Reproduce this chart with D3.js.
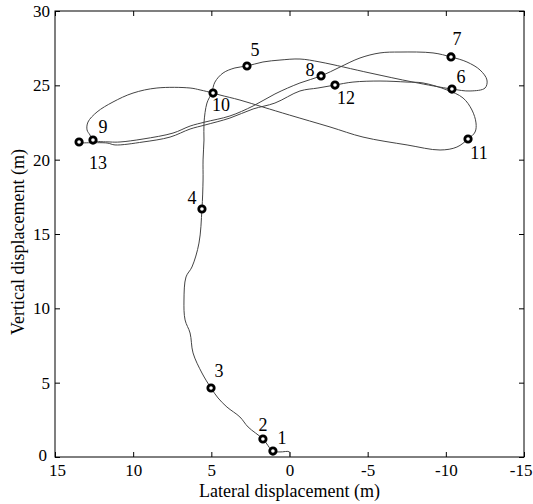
<!DOCTYPE html>
<html>
<head>
<meta charset="utf-8">
<script src="https://cdn.jsdelivr.net/npm/d3@7"></script>
<style>
  body { margin: 0; background: #fff; }
  text { font-family: "Liberation Serif", "Times New Roman", serif; }
</style>
</head>
<body>
<div class="canvas"></div>
<script>
// trajectory (lateral x, vertical y), in metres
const pathX = [0, 0, 0.61, 1.06, 1.70, 2.65, 3.17, 4.00, 4.57, 5.02,
  5.60, 6.17, 6.36, 6.68, 6.75, 6.62, 6.24, 5.79, 5.60,
  5.53, 5.53, 5.47, 5.47, 5.28, 4.98, 4.77, 4.25, 3.49, 2.72,
  1.70, 0.61, -0.67, -1.95, -5.15, -7.90, -10.39,
  -11.55, -12.51, -12.63, -12.19, -11.35, -10.33,
  -9.18, -7.07, -5.79, -4.51, -3.23, -2.02,
  -0.67, 0.93, 2.33, 3.81, 5.41, 6.36, 7.45, 9.37, 10.84, 11.48, 12.57,
  12.76, 12.95, 12.89, 12.31, 11.29, 10.01, 8.48, 6.36, 5.72, 4.89,
  4.45, 3.17, 1.70, 0, -2.59, -4.70, -7.52, -9.63, -10.71, -11.42,
  -11.87, -11.93, -11.67, -11.10, -10.07, -8.54, -7.52, -5.79, -4.06, -2.91,
  -1.82, -0.67, 0.93, 2.33, 3.81, 5.41, 6.36, 7.64, 9.37, 11.16, 11.67, 13.46];
const pathY = [0, 0.34, 0.34, 0.40, 1.21, 2.02, 2.69, 3.36, 3.97, 4.64,
  5.65, 7.00, 8.34, 9.22, 10.56, 12.11, 12.78, 14.39, 16.68,
  18.63, 19.98, 21.32, 22.47, 23.81, 24.48, 25.22, 25.83, 26.17, 26.30,
  26.57, 26.70, 26.77, 26.57, 25.83, 25.22, 24.75,
  24.62, 24.82, 25.36, 26.03, 26.57, 26.91,
  27.18, 27.24, 27.18, 26.84, 26.23, 25.63,
  25.16, 24.42, 23.61, 22.94, 22.53, 22.26, 21.79, 21.39, 21.19, 21.19, 21.32,
  21.66, 22.00, 22.53, 23.21, 23.88, 24.48, 24.82, 24.82, 24.69, 24.48,
  24.35, 24.01, 23.54, 23.00, 22.20, 21.52, 20.99, 20.65, 20.85, 21.39,
  21.86, 22.47, 23.34, 24.15, 24.69, 25.16, 25.22, 25.29, 25.22, 25.02,
  24.82, 24.62, 23.81, 23.41, 22.80, 22.33, 22.06, 21.52, 21.19, 20.99, 21.12, 21.12];

// numbered points along the path
const markLabels = ['1', '2', '3', '4', '5', '6', '7', '8', '9', '10', '11', '12', '13'];
const markX = [1.06, 1.70, 5.02, 5.60, 2.72, -10.39, -10.33, -2.02, 12.57, 4.89, -11.42, -2.91, 13.46];
const markY = [0.40, 1.21, 4.64, 16.68, 26.30, 24.75, 26.91, 25.63, 21.32, 24.48, 21.39, 25.02, 21.19];

const xTicks = [15, 10, 5, 0, -5, -10, -15];
const yTicks = [0, 5, 10, 15, 20, 25, 30];

const dims = { width: 533, height: 504 };
const plot = { left: 55, right: 524, top: 11, bottom: 457 };

// label placement next to each marker (px)
const labelOffset = {
  '1': [9, -13], '2': [0, -14], '3': [8, -17], '4': [-10, -11], '5': [8, -16],
  '6': [9, -12], '7': [6, -18], '8': [-11, -6], '9': [10, -13], '10': [8, 12],
  '11': [11, 14], '12': [11, 13], '13': [19, 21]
};

const svg = d3.select('.canvas')
  .append('svg')
  .attr('width', dims.width)
  .attr('height', dims.height);

const x = d3.scaleLinear().domain([15, -15]).range([plot.left, plot.right]);
const y = d3.scaleLinear().domain([0, 30]).range([plot.bottom, plot.top]);

const fmt = d => String(d);

// axes: ticks pointing inward on all four sides
const axisStyle = g => {
  g.select('.domain').remove();
  g.selectAll('line').attr('stroke', '#000');
  g.selectAll('text').attr('font-size', '17px').attr('fill', '#000')
    .attr('font-family', '"Liberation Serif", "Times New Roman", serif');
};

svg.append('g')
  .attr('transform', `translate(0, ${plot.bottom})`)
  .call(d3.axisBottom(x).tickValues(xTicks).tickFormat(fmt).tickSizeInner(-5).tickSizeOuter(0).tickPadding(7))
  .call(axisStyle)
  // end labels nudged so they stay clear of the corner and page edge
  .call(g => g.selectAll('.tick:first-of-type text').attr('dx', 2))
  .call(g => g.selectAll('.tick:last-of-type text').attr('text-anchor', 'end').attr('dx', 8));

svg.append('g')
  .attr('transform', `translate(0, ${plot.top})`)
  .call(d3.axisTop(x).tickValues(xTicks).tickFormat('').tickSizeInner(-5).tickSizeOuter(0))
  .call(axisStyle);

svg.append('g')
  .attr('transform', `translate(${plot.left}, 0)`)
  .call(d3.axisLeft(y).tickValues(yTicks).tickFormat(fmt).tickSizeInner(-5).tickSizeOuter(0).tickPadding(5))
  .call(axisStyle)
  .call(g => g.selectAll('.tick:first-of-type text').attr('dx', -3).attr('dy', '0.2em'));

svg.append('g')
  .attr('transform', `translate(${plot.right}, 0)`)
  .call(d3.axisRight(y).tickValues(yTicks).tickFormat('').tickSizeInner(-5).tickSizeOuter(0))
  .call(axisStyle);

svg.append('rect')
  .attr('x', plot.left)
  .attr('y', plot.top)
  .attr('width', plot.right - plot.left)
  .attr('height', plot.bottom - plot.top)
  .attr('fill', 'none')
  .attr('stroke', '#000')
  .attr('stroke-width', 1);

// axis titles
svg.append('text')
  .attr('x', (plot.left + plot.right) / 2)
  .attr('y', 496.5)
  .attr('text-anchor', 'middle')
  .attr('font-size', '18px')
  .text('Lateral displacement (m)');

svg.append('text')
  .attr('transform', `translate(24, 242) rotate(-90)`)
  .attr('text-anchor', 'middle')
  .attr('font-size', '18px')
  .text('Vertical displacement (m)');

// trajectory
const pts = pathX.map((d, i) => [d, pathY[i]]);
const line = d3.line()
  .x(d => x(d[0]))
  .y(d => y(d[1]))
  .curve(d3.curveCatmullRom.alpha(0.5));

svg.append('path')
  .datum(pts)
  .attr('d', line)
  .attr('fill', 'none')
  .attr('stroke', '#444')
  .attr('stroke-width', 1);

// markers and their numbers
const marks = markLabels.map((l, i) => ({ label: l, x: markX[i], y: markY[i] }));

svg.selectAll('circle.mark')
  .data(marks)
  .enter()
  .append('circle')
    .attr('class', 'mark')
    .attr('cx', d => x(d.x))
    .attr('cy', d => y(d.y))
    .attr('r', 3.2)
    .attr('fill', '#fff')
    .attr('stroke', '#000')
    .attr('stroke-width', 2.8);

svg.selectAll('text.mark')
  .data(marks)
  .enter()
  .append('text')
    .attr('class', 'mark')
    .attr('x', d => x(d.x) + labelOffset[d.label][0])
    .attr('y', d => y(d.y) + labelOffset[d.label][1])
    .attr('dy', '0.35em')
    .attr('text-anchor', 'middle')
    .attr('font-size', '18px')
    .text(d => d.label);
</script>
</body>
</html>
